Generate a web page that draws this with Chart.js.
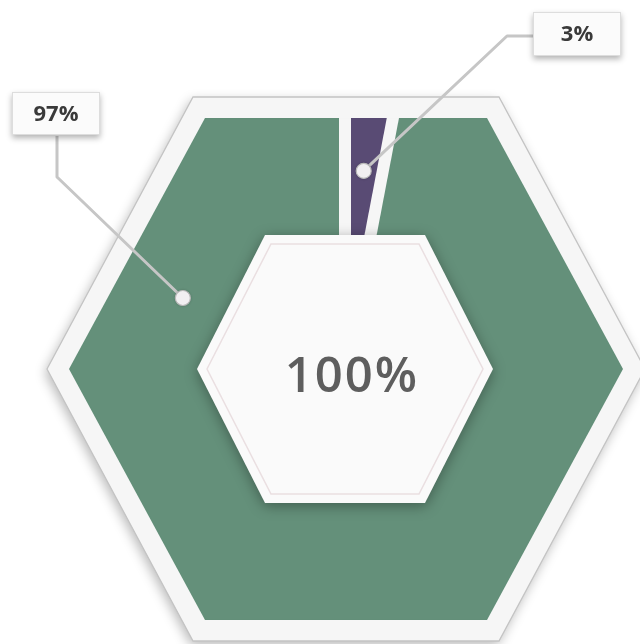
<!DOCTYPE html>
<html>
<head>
<meta charset="utf-8">
<script src="https://cdn.jsdelivr.net/npm/chart.js@4/dist/chart.umd.min.js"></script>
<style>
  html, body { margin: 0; padding: 0; background: #ffffff; }
  #wrap { width: 640px; height: 644px; position: relative; }
</style>
</head>
<body>
<div id="wrap"><canvas id="chart"></canvas></div>
<script>
// Data
const categories = ['Share A', 'Share B'];
const values = [3, 97];
const sliceColors = ['#594b74', '#64907a'];

const total = values.reduce((a, b) => a + b, 0);
const valueLabels = values.map(v => v + '%');

// Flat-topped hexagon path: hw = half width (side vertices), ht = half of top edge, hh = half height
function hexPath(ctx, cx, cy, hw, ht, hh) {
  ctx.beginPath();
  ctx.moveTo(cx - hw, cy);
  ctx.lineTo(cx - ht, cy - hh);
  ctx.lineTo(cx + ht, cy - hh);
  ctx.lineTo(cx + hw, cy);
  ctx.lineTo(cx + ht, cy + hh);
  ctx.lineTo(cx - ht, cy + hh);
  ctx.closePath();
}

// Hexagon sizes around the chart centre
const FRAME = { dx: 1, hw: 299, ht: 153, hh: 272 };
const FILL  = { dx: 1, hw: 277, ht: 141, hh: 251 };
const HOLE  = { dx: 0, hw: 148, ht: 80,  hh: 134 };
const GAP = 12;
const FRAME_COLOR = '#f6f6f6';

// Callout layout: which slice, where along it the dot sits, and the label box
const callouts = [
  { index: 0, frac: 0.5, r: 199, box: { x: 533, y: 12, w: 88, h: 44 },
    path: [[533, 36], [507, 36]] },
  { index: 1, frac: 0.81, r: 177, box: { x: 12, y: 92, w: 88, h: 43 },
    path: [[57, 136], [57, 177]] }
];

const hexPlugin = {
  id: 'hexDonut',
  beforeDatasetsDraw(chart) {
    const arc = chart.getDatasetMeta(0).data[0];
    const cx = arc.x, cy = arc.y;
    const ctx = chart.ctx;
    // white frame with outline and soft drop shadow
    ctx.save();
    ctx.shadowColor = 'rgba(0,0,0,0.28)';
    ctx.shadowBlur = 12;
    ctx.shadowOffsetX = -2;
    ctx.shadowOffsetY = 4;
    hexPath(ctx, cx + FRAME.dx, cy, FRAME.hw, FRAME.ht, FRAME.hh);
    ctx.fillStyle = FRAME_COLOR;
    ctx.fill();
    ctx.restore();
    ctx.save();
    hexPath(ctx, cx + FRAME.dx, cy, FRAME.hw, FRAME.ht, FRAME.hh);
    ctx.strokeStyle = '#c4c4c4';
    ctx.lineWidth = 1.3;
    ctx.stroke();
    ctx.restore();
    // slices are clipped to the hexagonal band
    ctx.save();
    hexPath(ctx, cx + FILL.dx, cy, FILL.hw, FILL.ht, FILL.hh);
    ctx.clip();
  },
  afterDatasetsDraw(chart) {
    const meta = chart.getDatasetMeta(0);
    const arc0 = meta.data[0];
    const cx = arc0.x, cy = arc0.y;
    const ctx = chart.ctx;

    // straight separators along each slice boundary
    ctx.save();
    ctx.strokeStyle = FRAME_COLOR;
    ctx.lineWidth = GAP;
    ctx.lineCap = 'butt';
    meta.data.forEach(arc => {
      const a = arc.startAngle;
      ctx.beginPath();
      ctx.moveTo(cx, cy);
      ctx.lineTo(cx + 400 * Math.cos(a), cy + 400 * Math.sin(a));
      ctx.stroke();
    });
    ctx.restore();

    // subtle inner edge shade on the coloured band
    hexPath(ctx, cx + FILL.dx, cy, FILL.hw + 6, FILL.ht + 3, FILL.hh + 6);
    ctx.shadowColor = 'rgba(0,0,0,0.25)';
    ctx.shadowBlur = 6;
    ctx.strokeStyle = 'rgba(0,0,0,0.08)';
    ctx.lineWidth = 8;
    ctx.stroke();
    ctx.restore();

    // centre hexagon
    ctx.save();
    ctx.shadowColor = 'rgba(0,0,0,0.35)';
    ctx.shadowBlur = 14;
    ctx.shadowOffsetY = 3;
    hexPath(ctx, cx + HOLE.dx, cy, HOLE.hw, HOLE.ht, HOLE.hh);
    ctx.fillStyle = '#fafafa';
    ctx.fill();
    ctx.restore();
    ctx.save();
    hexPath(ctx, cx + HOLE.dx, cy, HOLE.hw - 10, HOLE.ht - 6, HOLE.hh - 9);
    ctx.strokeStyle = 'rgba(232,220,222,0.9)';
    ctx.lineWidth = 1.5;
    ctx.stroke();
    ctx.fillStyle = '#5e5e5e';
    ctx.font = '600 49px "Open Sans", sans-serif';
    ctx.letterSpacing = '2px';
    ctx.textAlign = 'center';
    ctx.textBaseline = 'alphabetic';
    ctx.fillText(total + '%', cx + 7, cy + 23);
    ctx.restore();

    // callouts
    callouts.forEach(c => {
      const arc = meta.data[c.index];
      const ang = arc.startAngle + (arc.endAngle - arc.startAngle) * c.frac;
      const px = cx + c.r * Math.cos(ang);
      const py = cy + c.r * Math.sin(ang);

      ctx.save();
      ctx.strokeStyle = '#c6c6c6';
      ctx.lineWidth = 3;
      ctx.lineJoin = 'round';
      ctx.beginPath();
      ctx.moveTo(c.path[0][0], c.path[0][1]);
      for (let i = 1; i < c.path.length; i++) ctx.lineTo(c.path[i][0], c.path[i][1]);
      ctx.lineTo(px, py);
      ctx.stroke();
      ctx.restore();

      // anchor dot
      ctx.save();
      ctx.shadowColor = 'rgba(0,0,0,0.3)';
      ctx.shadowBlur = 3;
      ctx.beginPath();
      ctx.arc(px, py, 7.5, 0, Math.PI * 2);
      ctx.fillStyle = '#f1eff1';
      ctx.fill();
      ctx.restore();
      ctx.save();
      ctx.beginPath();
      ctx.arc(px, py, 7.5, 0, Math.PI * 2);
      ctx.strokeStyle = '#b9b9b9';
      ctx.lineWidth = 1.2;
      ctx.stroke();
      ctx.restore();

      // label box
      const b = c.box;
      ctx.save();
      ctx.shadowColor = 'rgba(0,0,0,0.3)';
      ctx.shadowBlur = 6;
      ctx.shadowOffsetY = 3;
      ctx.fillStyle = '#fbfbfb';
      ctx.fillRect(b.x, b.y, b.w, b.h);
      ctx.restore();
      ctx.save();
      ctx.strokeStyle = '#dddddd';
      ctx.lineWidth = 1;
      ctx.strokeRect(b.x + 0.5, b.y + 0.5, b.w - 1, b.h - 1);
      ctx.fillStyle = '#3a3a3a';
      ctx.font = '700 22px "Open Sans", sans-serif';
      ctx.textAlign = 'center';
      ctx.textBaseline = 'middle';
      ctx.fillText(valueLabels[c.index], b.x + b.w / 2, b.y + b.h / 2 + 1);
      ctx.restore();
    });
  }
};

new Chart(document.getElementById('chart'), {
  type: 'doughnut',
  data: {
    labels: categories,
    datasets: [{
      data: values,
      backgroundColor: sliceColors,
      borderWidth: 0,
      radius: 320,
      cutout: '20%'
    }]
  },
  options: {
    responsive: true,
    maintainAspectRatio: false,
    animation: false,
    rotation: 0,
    layout: { padding: { left: 50, right: 0, top: 94, bottom: 0 } },
    plugins: {
      legend: { display: false },
      tooltip: { enabled: false }
    }
  },
  plugins: [hexPlugin]
});
</script>
</body>
</html>
